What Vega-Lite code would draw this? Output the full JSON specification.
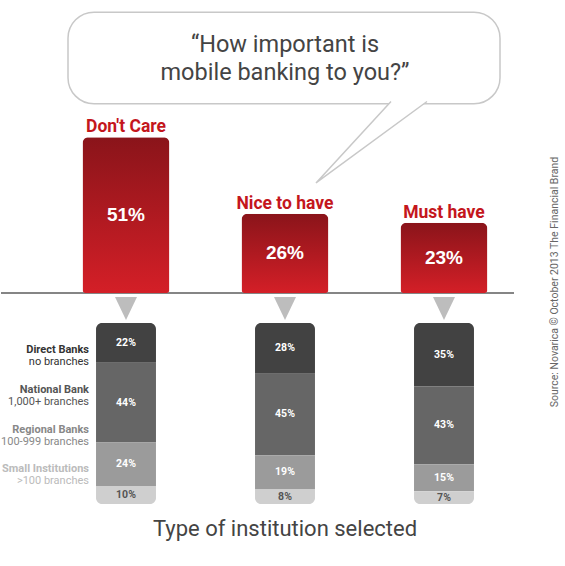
{
  "$schema": "https://vega.github.io/schema/vega-lite/v6.json",
  "width": 565,
  "height": 566,
  "autosize": {"type": "fit", "contains": "padding"},
  "padding": 0,
  "background": "white",
  "config": {
    "view": {"stroke": null},
    "font": "Roboto",
    "text": {"font": "Roboto"}
  },
  "datasets": {
    "answers": [
      {"answer": "Don't Care", "pct": 51},
      {"answer": "Nice to have", "pct": 26},
      {"answer": "Must have", "pct": 23}
    ],
    "institutions": [
      {"cat": "Don't Care", "seg": "Direct Banks", "note": "no branches", "rank": 1, "pct": 22},
      {"cat": "Don't Care", "seg": "National Bank", "note": "1,000+ branches", "rank": 2, "pct": 44},
      {"cat": "Don't Care", "seg": "Regional Banks", "note": "100-999 branches", "rank": 3, "pct": 24},
      {"cat": "Don't Care", "seg": "Small Institutions", "note": ">100 branches", "rank": 4, "pct": 10},
      {"cat": "Nice to have", "seg": "Direct Banks", "note": "no branches", "rank": 1, "pct": 28},
      {"cat": "Nice to have", "seg": "National Bank", "note": "1,000+ branches", "rank": 2, "pct": 45},
      {"cat": "Nice to have", "seg": "Regional Banks", "note": "100-999 branches", "rank": 3, "pct": 19},
      {"cat": "Nice to have", "seg": "Small Institutions", "note": ">100 branches", "rank": 4, "pct": 8},
      {"cat": "Must have", "seg": "Direct Banks", "note": "no branches", "rank": 1, "pct": 35},
      {"cat": "Must have", "seg": "National Bank", "note": "1,000+ branches", "rank": 2, "pct": 43},
      {"cat": "Must have", "seg": "Regional Banks", "note": "100-999 branches", "rank": 3, "pct": 15},
      {"cat": "Must have", "seg": "Small Institutions", "note": ">100 branches", "rank": 4, "pct": 7}
    ]
  },
  "resolve": {"scale": {"y": "independent", "color": "independent"}},
  "layer": [
    {
      "data": {"name": "answers"},
      "encoding": {
        "x": {
          "field": "answer",
          "type": "nominal",
          "scale": {"domain": ["Don't Care", "Nice to have", "Must have"], "range": [45.5, 522.5], "paddingInner": 0, "paddingOuter": 0},
          "axis": null
        },
        "y": {
          "field": "pct",
          "type": "quantitative",
          "scale": {"domain": [0, 96], "range": [293, 0]},
          "axis": null
        }
      },
      "layer": [
        {
          "transform": [{"filter": "datum.answer == 'Must have'"}],
          "mark": {"type": "rect", "fill": "white", "stroke": "#c8c8c8", "strokeWidth": 1.5, "cornerRadius": 26, "xOffset": -58, "x2Offset": 56},
          "encoding": {
            "x": {"datum": "Don't Care"},
            "x2": {"datum": "Must have"},
            "y": {"datum": 92},
            "y2": {"datum": 62}
          }
        },
        {
          "transform": [{"filter": "datum.answer == 'Must have'"}],
          "mark": {
            "type": "point",
            "shape": "M0.351,-0.734L-1,0.734L1,-0.734",
            "size": 12321,
            "filled": true,
            "fill": "white",
            "stroke": "#c8c8c8",
            "strokeWidth": 1.5,
            "opacity": 1,
            "fillOpacity": 1,
            "xOffset": 86.5
          },
          "encoding": {
            "x": {"datum": "Nice to have"},
            "y": {"datum": 49.4}
          }
        },
        {
          "transform": [{"filter": "datum.answer == 'Must have'"}],
          "mark": {"type": "text", "fontSize": 23.5, "lineHeight": 28, "color": "#444444", "align": "center", "baseline": "middle"},
          "encoding": {
            "x": {"datum": "Nice to have"},
            "y": {"datum": 81.3},
            "text": {"value": ["“How important is", "mobile banking to you?”"]}
          }
        },
        {
          "transform": [{"filter": "datum.answer == 'Must have'"}],
          "mark": {"type": "rule", "color": "#858585", "strokeWidth": 2, "xOffset": -125, "x2Offset": 70},
          "encoding": {
            "x": {"datum": "Don't Care"},
            "x2": {"datum": "Must have"},
            "y": {"datum": 0}
          }
        },
        {
          "mark": {
            "type": "bar",
            "width": {"band": 0.547},
            "cornerRadiusTopLeft": 6,
            "cornerRadiusTopRight": 6,
            "cornerRadiusBottomLeft": 3,
            "cornerRadiusBottomRight": 3,
            "color": {
              "gradient": "linear",
              "x1": 0, "y1": 0, "x2": 0, "y2": 1,
              "stops": [
                {"offset": 0, "color": "#8a141a"},
                {"offset": 1, "color": "#d41f27"}
              ]
            }
          }
        },
        {
          "mark": {"type": "text", "fontSize": 17.5, "fontWeight": "bold", "color": "#c4161c", "baseline": "alphabetic", "dy": -5},
          "encoding": {"text": {"field": "answer"}}
        },
        {
          "transform": [
            {"calculate": "datum.pct / 2", "as": "mid"},
            {"calculate": "datum.pct + '%'", "as": "label"}
          ],
          "mark": {"type": "text", "font": "Liberation Sans", "fontSize": 19, "fontWeight": "bold", "color": "white", "baseline": "middle"},
          "encoding": {
            "y": {"field": "mid", "type": "quantitative"},
            "text": {"field": "label"}
          }
        },
        {
          "mark": {
            "type": "point",
            "shape": "M-1,-1.05L1,-1.05L0,1.05Z",
            "size": 484,
            "filled": true,
            "fill": "#bdbdbd",
            "strokeWidth": 0,
            "opacity": 1,
            "yOffset": 15.5
          },
          "encoding": {"y": {"datum": 0}}
        },
        {
          "transform": [{"filter": "datum.answer == 'Must have'"}],
          "mark": {"type": "text", "fontSize": 10.5, "color": "#666666", "angle": 270, "align": "center", "baseline": "middle", "xOffset": 111},
          "encoding": {
            "x": {"datum": "Must have"},
            "y": {"datum": 3.6},
            "text": {"value": "Source: Novarica © October 2013 The Financial Brand"}
          }
        }
      ]
    },
    {
      "data": {"name": "institutions"},
      "transform": [
        {"stack": "pct", "groupby": ["cat"], "sort": [{"field": "rank", "order": "ascending"}], "as": ["y0", "y1"]},
        {"calculate": "(datum.y0 + datum.y1) / 2", "as": "mid"},
        {"calculate": "datum.pct + '%'", "as": "label"}
      ],
      "encoding": {
        "x": {
          "field": "cat",
          "type": "nominal",
          "scale": {"domain": ["Don't Care", "Nice to have", "Must have"]},
          "axis": null
        },
        "y": {
          "field": "y0",
          "type": "quantitative",
          "scale": {"domain": [0, 100], "range": [323, 504]},
          "axis": null
        }
      },
      "layer": [
        {
          "transform": [{"filter": "datum.rank == 1"}],
          "mark": {"type": "bar", "width": {"band": 0.377}, "cornerRadiusTopLeft": 6, "cornerRadiusTopRight": 6},
          "encoding": {
            "y2": {"field": "y1"},
            "color": {
              "field": "seg",
              "type": "nominal",
              "scale": {"domain": ["Direct Banks", "National Bank", "Regional Banks", "Small Institutions"], "range": ["#424242", "#666666", "#9b9b9b", "#cfcfcf"]},
              "legend": null
            }
          }
        },
        {
          "transform": [{"filter": "datum.rank == 2 || datum.rank == 3"}],
          "mark": {"type": "bar", "width": {"band": 0.377}},
          "encoding": {
            "y2": {"field": "y1"},
            "color": {"field": "seg", "type": "nominal", "legend": null}
          }
        },
        {
          "transform": [{"filter": "datum.rank == 4"}],
          "mark": {"type": "bar", "width": {"band": 0.377}, "cornerRadiusBottomLeft": 6, "cornerRadiusBottomRight": 6},
          "encoding": {
            "y2": {"field": "y1"},
            "color": {"field": "seg", "type": "nominal", "legend": null}
          }
        },
        {
          "mark": {"type": "text", "fontSize": 10.5, "fontWeight": "bold", "baseline": "middle"},
          "encoding": {
            "y": {"field": "mid", "type": "quantitative"},
            "text": {"field": "label"},
            "color": {
              "condition": {"test": "datum.rank == 4", "value": "#555555"},
              "value": "white"
            }
          }
        },
        {
          "transform": [{"filter": "datum.rank == 1 && datum.cat == 'Must have'"}],
          "mark": {"type": "text", "fontSize": 22, "color": "#444444", "baseline": "middle"},
          "encoding": {
            "x": {"datum": "Nice to have"},
            "y": {"datum": 114},
            "text": {"value": "Type of institution selected"}
          }
        }
      ]
    },
    {
      "data": {"name": "institutions"},
      "transform": [{"filter": "datum.cat == \"Don't Care\""}],
      "encoding": {
        "x": {"datum": "Don't Care"},
        "y": {
          "field": "seg",
          "type": "nominal",
          "scale": {"type": "point", "domain": ["Direct Banks", "National Bank", "Regional Banks", "Small Institutions"], "range": [330.5, 489]},
          "axis": null
        },
        "color": {
          "field": "seg",
          "type": "nominal",
          "scale": {"domain": ["Direct Banks", "National Bank", "Regional Banks", "Small Institutions"], "range": ["#333333", "#555555", "#888888", "#bbbbbb"]},
          "legend": null
        }
      },
      "layer": [
        {
          "mark": {"type": "text", "fontSize": 11, "fontWeight": "bold", "align": "right", "baseline": "middle", "dx": -37},
          "encoding": {"text": {"field": "seg"}}
        },
        {
          "mark": {"type": "text", "fontSize": 11, "align": "right", "baseline": "middle", "dx": -37, "dy": 12},
          "encoding": {"text": {"field": "note"}}
        }
      ]
    }
  ]
}
